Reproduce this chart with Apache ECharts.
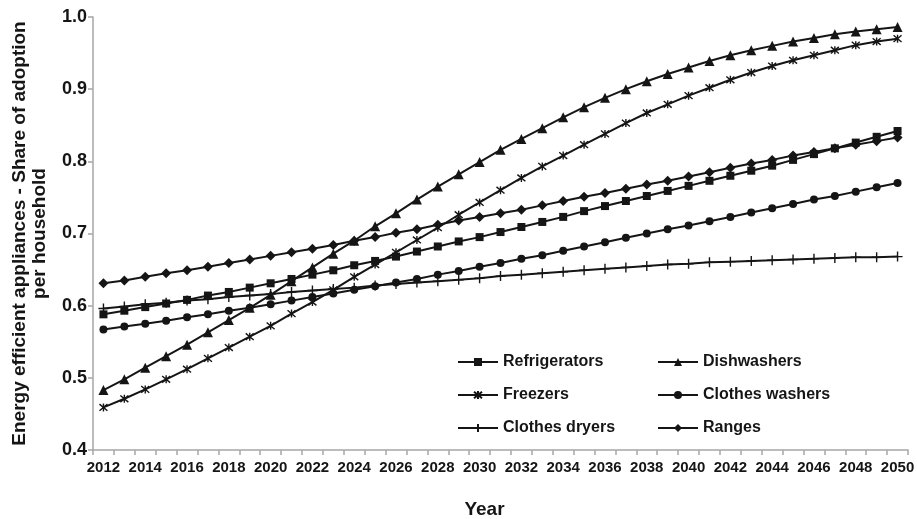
<!DOCTYPE html>
<html>
<head>
<meta charset="utf-8">
<script src="https://cdn.jsdelivr.net/npm/echarts@6/dist/echarts.min.js"></script>
<style>
  html, body { margin: 0; padding: 0; background: #ffffff; }
  #chart { width: 917px; height: 519px; }
</style>
</head>
<body>
<div id="chart"></div>
<script>
// Projection years
const years = ['2012','2013','2014','2015','2016','2017','2018','2019','2020','2021',
  '2022','2023','2024','2025','2026','2027','2028','2029','2030','2031',
  '2032','2033','2034','2035','2036','2037','2038','2039','2040','2041',
  '2042','2043','2044','2045','2046','2047','2048','2049','2050'];

// Share of households adopting energy efficient appliances
const refrigerators = [0.588,0.593,0.598,0.603,0.608,0.614,0.619,0.625,0.631,0.637,
  0.643,0.649,0.656,0.662,0.668,0.675,0.682,0.689,0.695,0.702,
  0.709,0.716,0.723,0.731,0.738,0.745,0.752,0.759,0.766,0.773,
  0.780,0.787,0.794,0.802,0.810,0.818,0.826,0.834,0.842];

const dishwashers = [0.483,0.498,0.514,0.530,0.546,0.563,0.580,0.597,0.615,0.634,
  0.653,0.672,0.690,0.710,0.728,0.747,0.765,0.782,0.799,0.816,
  0.831,0.846,0.861,0.875,0.888,0.900,0.911,0.921,0.930,0.939,
  0.947,0.954,0.960,0.966,0.971,0.976,0.980,0.983,0.986];

const freezers = [0.459,0.471,0.484,0.498,0.512,0.527,0.542,0.557,0.572,0.589,
  0.605,0.622,0.640,0.657,0.674,0.691,0.708,0.726,0.743,0.760,
  0.777,0.793,0.808,0.823,0.838,0.853,0.867,0.879,0.891,0.902,
  0.913,0.923,0.932,0.940,0.947,0.954,0.961,0.966,0.970];

const clothesWashers = [0.567,0.571,0.575,0.579,0.584,0.588,0.593,0.597,0.602,0.607,
  0.612,0.617,0.622,0.627,0.632,0.637,0.643,0.648,0.654,0.659,
  0.665,0.670,0.676,0.682,0.688,0.694,0.700,0.706,0.711,0.717,
  0.723,0.729,0.735,0.741,0.747,0.752,0.758,0.764,0.770];

const clothesDryers = [0.596,0.599,0.602,0.604,0.607,0.609,0.612,0.614,0.616,0.619,
  0.621,0.623,0.625,0.628,0.630,0.632,0.634,0.636,0.638,0.641,
  0.643,0.645,0.647,0.649,0.651,0.653,0.655,0.657,0.658,0.660,
  0.661,0.662,0.663,0.664,0.665,0.666,0.667,0.667,0.668];

const ranges = [0.631,0.635,0.640,0.645,0.649,0.654,0.659,0.664,0.669,0.674,
  0.679,0.684,0.690,0.695,0.701,0.706,0.712,0.718,0.723,0.728,
  0.733,0.739,0.745,0.751,0.756,0.762,0.768,0.773,0.779,0.785,
  0.791,0.797,0.802,0.808,0.813,0.818,0.823,0.828,0.833];

const yTicks = { min: 0.4, max: 1.0, step: 0.1 };

const FONT = '"Liberation Sans", Arial, sans-serif';
const INK = '#151515';
const AXIS_GREY = '#a6a6a6';

// Stroked marker outlines (asterisk and plus)
const ASTERISK = 'path://M0,0L10,10M10,0L0,10M5,-1L5,11';
const PLUS = 'path://M5,0L5,10M0,5L10,5';

function lineSeries(name, data, symbol, size, stroked) {
  return {
    name: name,
    type: 'line',
    data: data,
    symbol: symbol,
    symbolSize: size,
    showAllSymbol: true,
    smooth: false,
    lineStyle: { color: INK, width: 2 },
    itemStyle: stroked
      ? { color: INK, borderColor: INK, borderWidth: 1.4 }
      : { color: INK, borderColor: INK, borderWidth: 0 },
    emphasis: { disabled: true },
    z: 2
  };
}

const chart = echarts.init(document.getElementById('chart'), null, { renderer: 'canvas' });

const legendText = { fontFamily: FONT, fontSize: 16, fontWeight: 'bold', color: INK };

chart.setOption({
  animation: false,
  backgroundColor: '#ffffff',
  textStyle: { fontFamily: FONT },
  grid: { left: 93, right: 9, top: 17, bottom: 69, containLabel: false, outerBoundsMode: 'none' },
  legend: [
    {
      orient: 'vertical', left: 457, top: 354, itemGap: 17, padding: 0,
      itemWidth: 40, itemHeight: 10, selectedMode: false,
      data: ['Refrigerators', 'Freezers', 'Clothes dryers'],
      textStyle: legendText
    },
    {
      orient: 'vertical', left: 657, top: 354, itemGap: 17, padding: 0,
      itemWidth: 40, itemHeight: 10, selectedMode: false,
      data: ['Dishwashers', 'Clothes washers', 'Ranges'],
      textStyle: legendText
    }
  ],
  xAxis: {
    type: 'category',
    data: years,
    boundaryGap: true,
    name: 'Year',
    nameLocation: 'middle',
    nameGap: 50,
    nameTextStyle: {
      fontFamily: FONT, fontSize: 19, fontWeight: 'bold', color: INK,
      padding: [0, 32, 0, 0]
    },
    axisLine: { lineStyle: { color: AXIS_GREY, width: 1.5 } },
    axisTick: { show: true, interval: 0, length: 5, lineStyle: { color: AXIS_GREY, width: 1.5 } },
    axisLabel: { interval: 1, margin: 10, fontFamily: FONT, fontSize: 15, fontWeight: 'bold', color: INK },
    splitLine: { show: false }
  },
  yAxis: {
    type: 'value',
    min: yTicks.min,
    max: yTicks.max,
    interval: yTicks.step,
    name: 'Energy efficient appliances - Share of adoption\nper household',
    nameLocation: 'middle',
    nameRotate: 90,
    nameGap: 43,
    nameTextStyle: { fontFamily: FONT, fontSize: 19, fontWeight: 'bold', color: INK, lineHeight: 20 },
    axisLine: { show: true, lineStyle: { color: AXIS_GREY, width: 1.5 } },
    axisTick: { show: true, length: 5, lineStyle: { color: AXIS_GREY, width: 1.5 } },
    axisLabel: {
      margin: 6, fontFamily: FONT, fontSize: 18, fontWeight: 'bold', color: INK,
      formatter: function (v) { return v.toFixed(1); }
    },
    splitLine: { show: false }
  },
  series: [
    lineSeries('Refrigerators', refrigerators, 'rect', 8, false),
    lineSeries('Dishwashers', dishwashers, 'triangle', 10, false),
    lineSeries('Freezers', freezers, ASTERISK, 8, true),
    lineSeries('Clothes washers', clothesWashers, 'circle', 8, false),
    lineSeries('Clothes dryers', clothesDryers, PLUS, 10, true),
    lineSeries('Ranges', ranges, 'diamond', 10, false)
  ]
});
</script>
</body>
</html>
